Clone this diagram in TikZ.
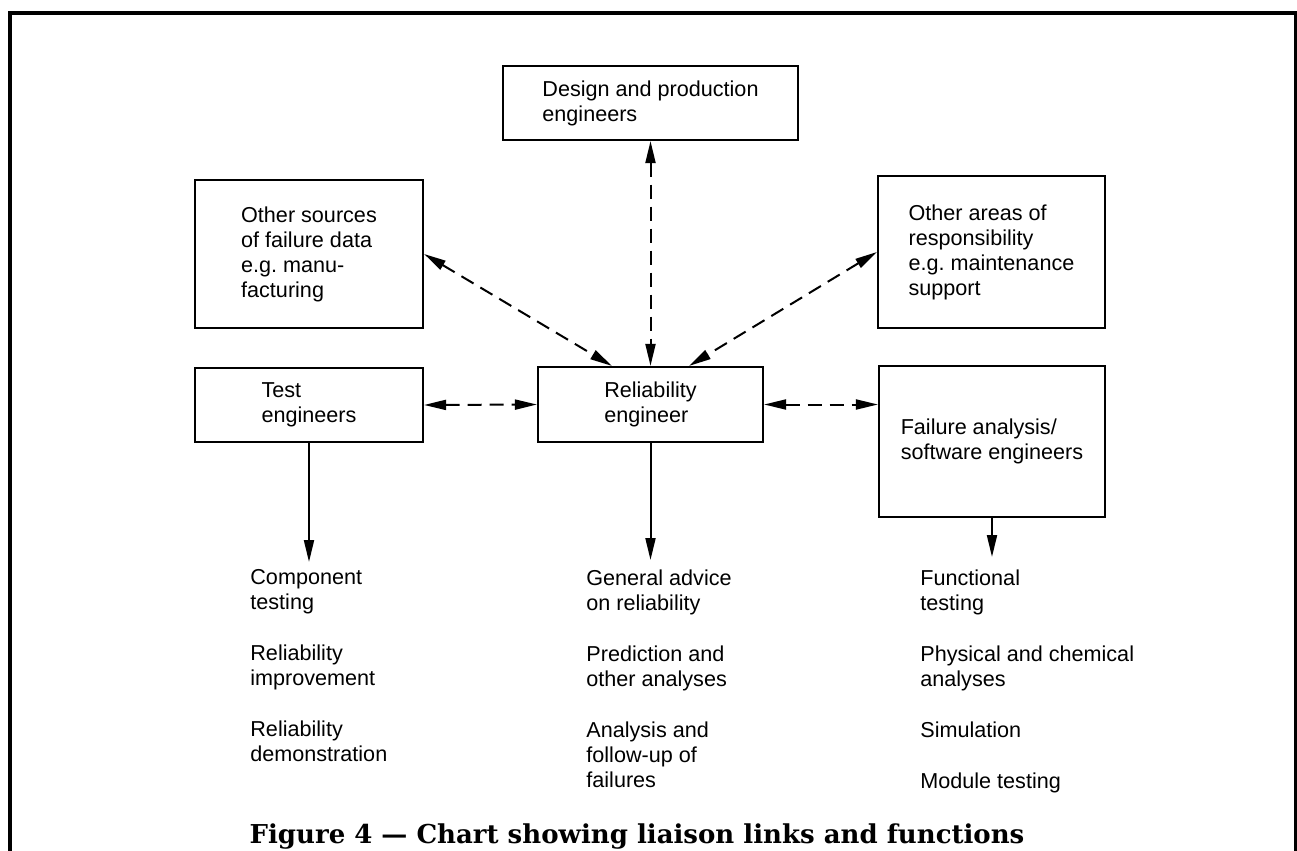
\documentclass[tikz,border=0pt]{standalone}
\usepackage{fontspec}
\setmainfont{Liberation Sans}
\newfontfamily\capfont{DejaVu Serif}
\usetikzlibrary{arrows.meta, positioning, calc}

\begin{document}
\begin{tikzpicture}[x=0.5pt, y=-0.5pt, >={Triangle[length=11pt,width=5pt]},
  font=\fontsize{10.8}{12.5}\selectfont,
  box/.style={draw, line width=1.1pt, align=left, inner sep=0pt},
  link/.style={<->, line width=1pt, dash pattern=on 7pt off 4pt},
  duty/.style={->, line width=1pt},
  list/.style={anchor=north west, align=left, inner sep=0pt}]
  \useasboundingbox (0,0) rectangle (1297,851);
  % Rahmen
  \draw[line width=1.6pt] (10,851) -- (10,13) -- (1296,13) -- (1296,851);
  % Kaesten
  \node[box, minimum width=147.5pt, minimum height=37pt] (design) at (650.5,103) {Design and production\\engineers};
  \node[box, minimum width=114pt, minimum height=74pt] (src) at (309,254) {Other sources\\of failure data\\e.g.\ manu-\\facturing};
  \node[box, minimum width=113.5pt, minimum height=76pt] (area) at (991.5,252) {Other areas of\\responsibility\\e.g.\ maintenance\\support};
  \node[box, minimum width=114pt, minimum height=37pt] (test) at (309,405) {Test\\engineers};
  \node[box, minimum width=112.5pt, minimum height=37.5pt] (rel) at (650.5,404.5) {Reliability\\engineer};
  \node[box, minimum width=113pt, minimum height=75.5pt] (fail) at (992,441.5) {Failure analysis/\\software engineers};
  % Verbindungen
  \draw[link] (design.south) -- (rel.north);
  \draw[link] (src.east) -- ($(rel.north west)!0.33!(rel.north east)$);
  \draw[link] (area.west) -- ($(rel.north west)!0.67!(rel.north east)$);
  \draw[link] (test.east) -- (rel.west);
  \draw[link] (rel.east) -- (rel.east -| fail.west);
  % Aufgaben
  \coordinate (testend) at (309,562);
  \coordinate (relend) at (650.5,560);
  \coordinate (failend) at (992,557);
  \draw[duty] (test.south) -- (testend);
  \draw[duty] (rel.south) -- (relend);
  \draw[duty] (fail.south) -- (failend);
  \node[list] (testlist) at (250,569) {Component\\testing\\[13pt]Reliability\\improvement\\[13pt]Reliability\\demonstration};
  \node[list] (rellist) at (586,569) {General advice\\on reliability\\[13pt]Prediction and\\other analyses\\[13pt]Analysis and\\follow-up of\\failures};
  \node[list] (faillist) at (920,569) {Functional\\testing\\[13pt]Physical and chemical\\analyses\\[13pt]Simulation\\[13pt]Module testing};
  % Bildunterschrift
  \node[font=\capfont\bfseries\fontsize{13}{15}\selectfont, anchor=base, inner sep=0pt] (caption) at (637,843) {Figure 4 — Chart showing liaison links and functions};
\end{tikzpicture}
\end{document}
